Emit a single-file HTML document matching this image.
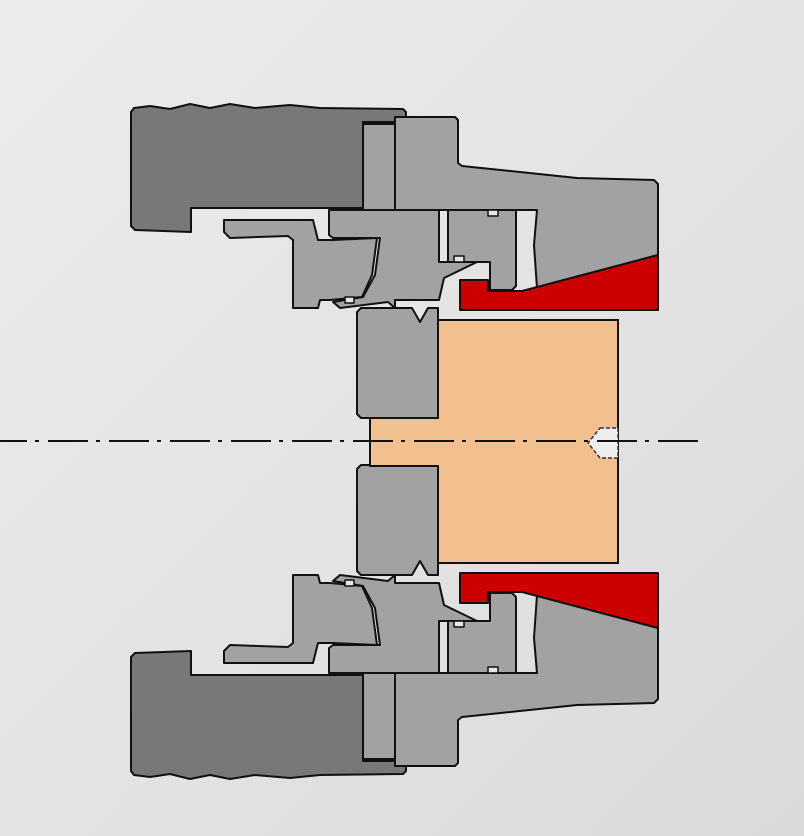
<!DOCTYPE html>
<html><head><meta charset="utf-8"><style>
html,body{margin:0;padding:0;width:804px;height:836px;overflow:hidden}
body{background:linear-gradient(135deg,#ececec 0%,#e2e2e2 60%,#dadada 100%)}
svg{position:absolute;left:0;top:0}
</style></head><body>
<svg width="804" height="836" viewBox="0 0 804 836" xmlns="http://www.w3.org/2000/svg">
<defs>
<g id="half" stroke="#111" stroke-width="2" stroke-linejoin="round">
  <!-- outer dark nut -->
  <path d="M134,108 L150,106 L170,109 L190,104 L210,108 L230,104 L255,108 L290,105 L320,108 L403,109 L406,112 L406,122 L363,122 L363,208 L191,208 L191,232 L135,230 L131,226 L131,112 Z" fill="#787878"/>
  <!-- pin -->
  <path d="M363,124 L395,124 L395,210 L363,210 Z" fill="#a2a2a2"/>
  <!-- housing -->
  <path d="M395,117 L455,117 L458,120 L458,163 L462,166 L577,178 L654,180 L658,184 L658,255 L537,288 L534,245 L537,210 L395,210 Z" fill="#a2a2a2"/>
  <!-- red wedge -->
  <path d="M460,280 L488,280 L488,291 L522,291 L658,255 L658,310 L460,310 Z" fill="#cc0000"/>
  <!-- sleeve -->
  <path d="M448,210 L516,210 L516,286 L512,290 L490,290 L490,262 L448,262 Z" fill="#a2a2a2"/>
  <!-- cross piece -->
  <path d="M329,210 L439,210 L439,262 L477,262 L444,278 L439,300 L395,300 L395,308 L388,302 L340,308 L333,302 L363,297 L375,275 L380,238 L333,238 L329,235 Z" fill="#a2a2a2"/>
  <!-- hook piece -->
  <path d="M224,220 L313,220 L318,240 L333,240 L377,238 L372,275 L362,297 L330,300 L320,300 L318,308 L293,308 L293,240 L288,236 L230,238 L224,232 Z" fill="#a2a2a2"/>
  <!-- central block -->
  <path d="M361,308 L412,308 L420,322 L428,308 L438,308 L438,418 L361,418 L357,414 L357,312 Z" fill="#a2a2a2"/>
  <rect x="345" y="297" width="9" height="6" fill="#e6e6e6" stroke-width="1.5"/>
  <rect x="488" y="210" width="10" height="6" fill="#e6e6e6" stroke-width="1.5"/>
  <rect x="454" y="256" width="10" height="6" fill="#e6e6e6" stroke-width="1.5"/>
</g>
</defs>
<use href="#half"/>
<use href="#half" transform="translate(0,883) scale(1,-1)"/>
<!-- orange core -->
<path d="M438,320 L618,320 L618,563 L438,563 L438,466 L370,466 L370,418 L438,418 Z" fill="#f2bf8f" stroke="#111" stroke-width="2"/>
<!-- dashed tip -->
<path d="M600,428 L618,428 L618,458 L600,458 L588,443 Z" fill="#eeeeee" stroke="#333" stroke-width="1.5" stroke-dasharray="4 2"/>
<!-- centerline -->
<line x1="0" y1="441" x2="700" y2="441" stroke="#111" stroke-width="2" stroke-dasharray="40 8 4 9" stroke-dashoffset="13"/>
</svg>
</body></html>
